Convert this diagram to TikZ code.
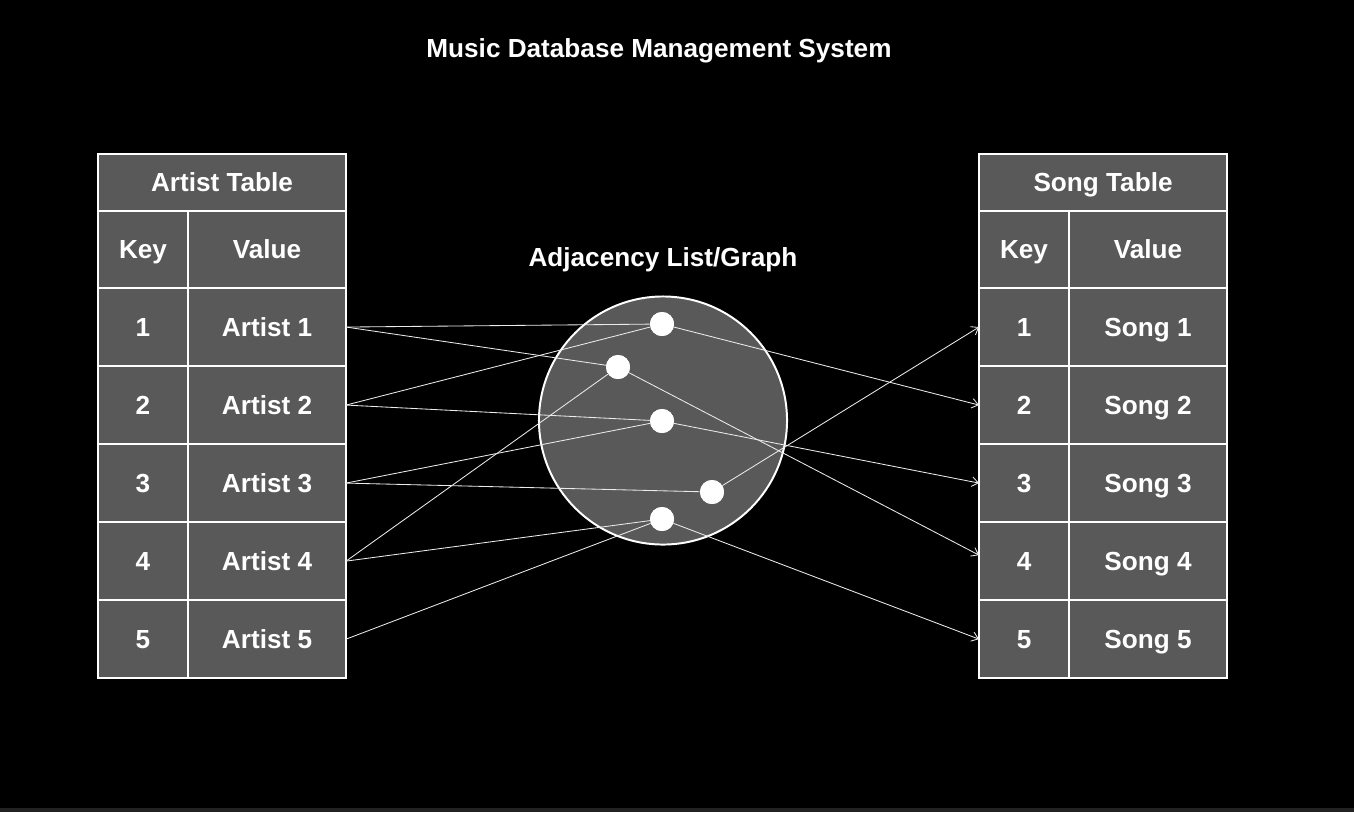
\documentclass[tikz,border=0pt]{standalone}
\usepackage{fontspec}
\setmainfont{Liberation Sans}
\usepackage{tikz}
\usetikzlibrary{arrows.meta, positioning}
\definecolor{canvas}{RGB}{0, 0, 0}
\definecolor{strip}{RGB}{34, 34, 34}
\definecolor{cellbg}{RGB}{89, 89, 89}
\definecolor{edge}{RGB}{235, 235, 235}
\tikzset{
  font=\bfseries\fontsize{18.6}{22}\selectfont,
  caption/.style={text=white, text height=13.4pt, text depth=0pt, inner sep=0pt},
  basecell/.style={
    rectangle, draw=white, fill=cellbg, line width=1.4pt,
    outer sep=0pt, inner sep=0pt, text=white, align=center,
    text height=13.4pt, text depth=0pt
  },
  headcell/.style={basecell, minimum width=6.2cm, minimum height=1.425cm},
  keycell/.style={basecell, minimum width=2.25cm, minimum height=1.925cm},
  valcell/.style={basecell, minimum width=3.95cm, minimum height=1.925cm},
  rowkey/.style={basecell, minimum width=2.25cm, minimum height=1.95cm},
  rowval/.style={basecell, minimum width=3.95cm, minimum height=1.95cm},
  graphblob/.style={
    circle, draw=white, fill=cellbg, line width=1.4pt, minimum size=6.2cm
  },
  hubdot/.style={circle, fill=white, inner sep=0pt, minimum size=0.6cm},
  linkline/.style={draw=edge, line width=0.6pt},
  arrowline/.style={
    draw=edge, line width=0.6pt, -{Straight Barb[length=1.6mm, width=2.4mm]}
  }
}
\begin{document}
\begin{tikzpicture}[x=0.025cm, y=-0.025cm]
  % Canvas
  \fill[canvas] (0,0) rectangle (1354,812);
  \fill[strip] (0,808) rectangle (1354,812);
  \useasboundingbox (0,0) rectangle (1354,812);

  % Title
  \node[caption] (title) at (659,48) {Music Database Management System};

  % Artist table (left)
  \node[headcell, anchor=north west] (art-hdr) at (98,154) {Artist Table};
  \node[keycell, below right=0pt and 0pt of art-hdr.south west] (art-key) {Key};
  \node[valcell, right=0pt of art-key] (art-val) {Value};
  \node[rowkey, below=0pt of art-key] (art-k1) {1};
  \node[rowval, right=0pt of art-k1] (art-v1) {Artist 1};
  \node[rowkey, below=0pt of art-k1] (art-k2) {2};
  \node[rowval, right=0pt of art-k2] (art-v2) {Artist 2};
  \node[rowkey, below=0pt of art-k2] (art-k3) {3};
  \node[rowval, right=0pt of art-k3] (art-v3) {Artist 3};
  \node[rowkey, below=0pt of art-k3] (art-k4) {4};
  \node[rowval, right=0pt of art-k4] (art-v4) {Artist 4};
  \node[rowkey, below=0pt of art-k4] (art-k5) {5};
  \node[rowval, right=0pt of art-k5] (art-v5) {Artist 5};

  % Song table (right)
  \node[headcell, anchor=north west] (song-hdr) at (979,154) {Song Table};
  \node[keycell, below right=0pt and 0pt of song-hdr.south west] (song-key) {Key};
  \node[valcell, right=0pt of song-key] (song-val) {Value};
  \node[rowkey, below=0pt of song-key] (song-k1) {1};
  \node[rowval, right=0pt of song-k1] (song-v1) {Song 1};
  \node[rowkey, below=0pt of song-k1] (song-k2) {2};
  \node[rowval, right=0pt of song-k2] (song-v2) {Song 2};
  \node[rowkey, below=0pt of song-k2] (song-k3) {3};
  \node[rowval, right=0pt of song-k3] (song-v3) {Song 3};
  \node[rowkey, below=0pt of song-k3] (song-k4) {4};
  \node[rowval, right=0pt of song-k4] (song-v4) {Song 4};
  \node[rowkey, below=0pt of song-k4] (song-k5) {5};
  \node[rowval, right=0pt of song-k5] (song-v5) {Song 5};

  % Adjacency graph (middle)
  \node[graphblob] (graph) at (663,420.5) {};
  \node[caption, above=0.72cm of graph] (graph-lbl) {Adjacency List/Graph};
  \node[hubdot] (hub1) at (662,324) {};
  \node[hubdot] (hub2) at (618,367) {};
  \node[hubdot] (hub3) at (662,421) {};
  \node[hubdot] (hub4) at (712,492) {};
  \node[hubdot] (hub5) at (662,519) {};

  % Artist -> graph links
  \draw[linkline] (art-v1.east) -- (hub1);
  \draw[linkline] (art-v1.east) -- (hub2);
  \draw[linkline] (art-v2.east) -- (hub1);
  \draw[linkline] (art-v2.east) -- (hub3);
  \draw[linkline] (art-v3.east) -- (hub3);
  \draw[linkline] (art-v3.east) -- (hub4);
  \draw[linkline] (art-v4.east) -- (hub2);
  \draw[linkline] (art-v4.east) -- (hub5);
  \draw[linkline] (art-v5.east) -- (hub5);

  % Graph -> song links
  \draw[arrowline] (hub1) -- (song-k2.west);
  \draw[arrowline] (hub2) -- ([yshift=0.15cm]song-k4.west);
  \draw[arrowline] (hub3) -- (song-k3.west);
  \draw[arrowline] (hub4) -- (song-k1.west);
  \draw[arrowline] (hub5) -- (song-k5.west);

  % Dots on top of the links
  \node[hubdot] at (hub1) {};
  \node[hubdot] at (hub2) {};
  \node[hubdot] at (hub3) {};
  \node[hubdot] at (hub4) {};
  \node[hubdot] at (hub5) {};
\end{tikzpicture}
\end{document}
